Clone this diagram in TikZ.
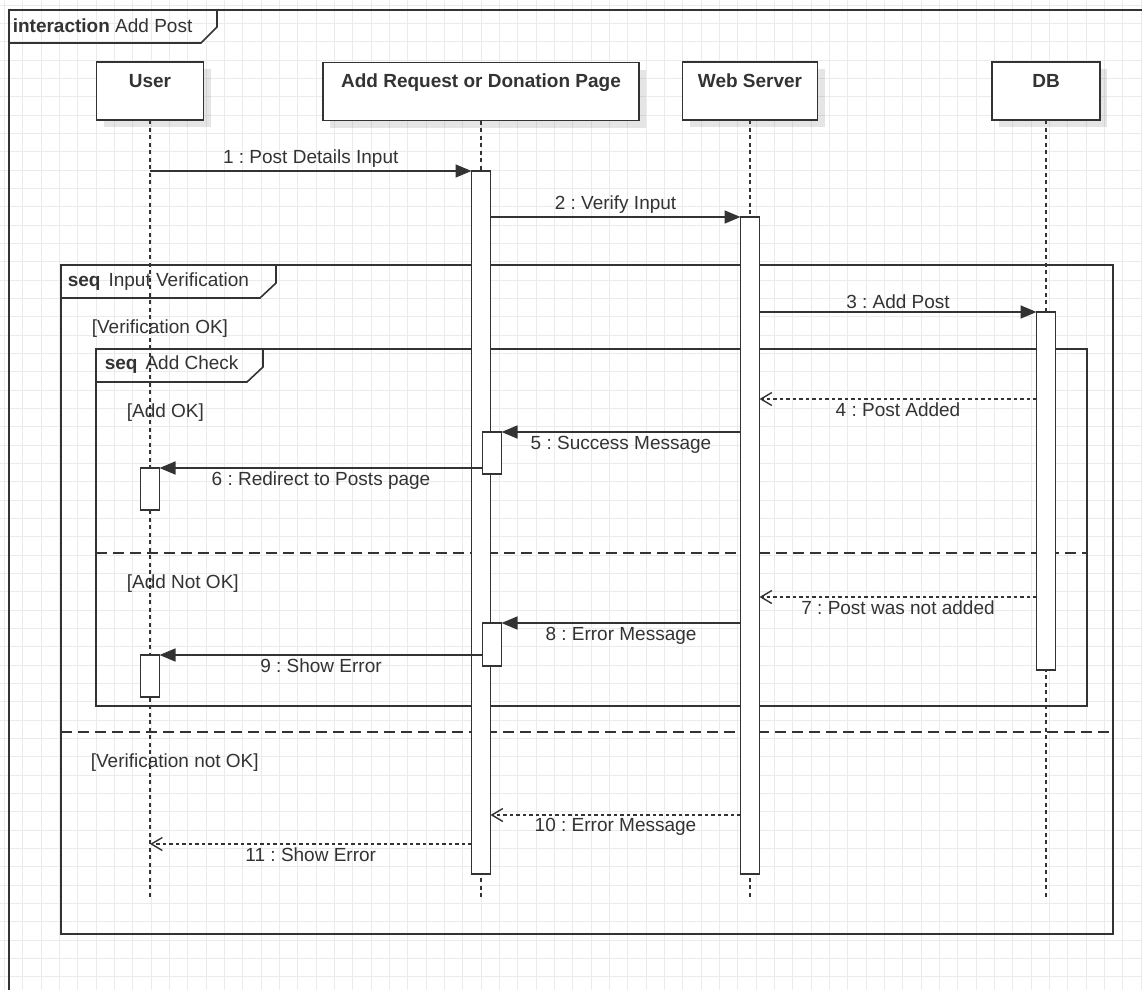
\documentclass[tikz,border=0pt]{standalone}
\usepackage{fontspec}
\setmainfont{Liberation Sans}
\usetikzlibrary{arrows.meta,shadows}
\definecolor{ink}{HTML}{333333}
\definecolor{gridline}{HTML}{EBEBEB}
\frenchspacing

\begin{document}
\begin{tikzpicture}
[x=1pt,y=-1pt,color=ink,line width=1.6pt,
 head/.style={draw,fill=white,minimum width=#1,minimum height=58pt,inner sep=0pt,outer sep=0pt,
   drop shadow={shadow xshift=7pt,shadow yshift=-7pt,fill=black,opacity=0.1}},
 hd/.style={anchor=base,font=\fontsize{19}{22}\selectfont\bfseries,inner sep=0pt},
 bar/.style={draw,fill=white,minimum width=19pt,inner sep=0pt,outer sep=0pt},
 life/.style={line width=1.2pt,dash pattern=on 4pt off 3.5pt},
 call/.style={-{Triangle[length=16pt,width=13pt]}},
 reply/.style={-{Straight Barb[length=11pt,width=13pt,line width=1.4pt]},line width=1.3pt,dash pattern=on 3.5pt off 3pt},
 msg/.style={font=\fontsize{19}{22}\selectfont,inner sep=3pt},
 guard/.style={anchor=west,font=\fontsize{19}{22}\selectfont,inner sep=0pt},
 split/.style={dash pattern=on 11pt off 6pt}]
\useasboundingbox (0,0) rectangle (1142,990);
\fill[white] (0,0) rectangle (1142,990);
\foreach \i in {0,...,62} \draw[gridline,line width=0.8pt] (4.5+18.33*\i,0) -- (4.5+18.33*\i,990);
\foreach \j in {0,...,54} \draw[gridline,line width=0.8pt] (0,5.2+18.33*\j) -- (1142,5.2+18.33*\j);

% interaction frame
\draw (9,990) -- (9,10) -- (1142,10);
\draw (9,43) -- (201,43) -- (217,27) -- (217,10);
\node[guard](title) at (12,26) {\textbf{interaction} Add Post};

% lifelines
\node[head=107pt](user) at (150,91) {};
\node[head=316pt](page) at (481,91.5) {};
\node[head=135pt](server) at (750,91) {};
\node[head=108pt](db) at (1046,91) {};
\node[hd](usert) at (150,87) {User};
\node[hd](paget) at (481,87) {Add Request or Donation Page};
\node[hd](servert) at (750,87) {Web Server};
\node[hd](dbt) at (1046,87) {DB};

\coordinate (end) at (0,897);
\draw[life] (user.south) -- (user.south |- end);
\draw[life] (page.south) -- (page.south |- end);
\draw[life] (server.south) -- (server.south |- end);
\draw[life] (db.south) -- (db.south |- end);

% frames
\draw (61,265) rectangle (1113,934);
\draw (61,298) -- (260,298) -- (276,283) -- (276,265);
\node[guard](ivlbl) at (67,282) {\textbf{seq}\hspace{8pt}Input Verification};
\node[guard](vok) at (91,329) {[Verification OK]};
\draw (96,349) rectangle (1087,706);
\draw (96,382) -- (247,382) -- (263,367) -- (263,349);
\node[guard](aclbl) at (104,365) {\textbf{seq}\hspace{8pt}Add Check};
\node[guard](aok) at (126,413) {[Add OK]};
\draw[split] (96,553) -- (1087,553);
\node[guard](anok) at (126,584) {[Add Not OK]};
\draw[split] (61,732) -- (1113,732);
\node[guard](vnok) at (90,763) {[Verification not OK]};

% activations
\node[bar,minimum height=703pt](pagebar) at (481,522.5) {};
\node[bar,minimum height=657pt](srvbar) at (750,545.5) {};
\node[bar,minimum height=358pt](dbbar) at (1046,491) {};
\node[bar,minimum height=42pt](pageok) at (492,453) {};
\node[bar,minimum height=42pt](userok) at (150,489) {};
\node[bar,minimum height=43pt](pagenok) at (492,644.5) {};
\node[bar,minimum height=42pt](usernok) at (150,676) {};

% messages
\coordinate (r4) at (0,399);
\coordinate (r7) at (0,597);
\coordinate (r10) at (0,815);
\coordinate (r11) at (0,844);
\draw[call] (user.south |- pagebar.north) -- (pagebar.north west) node[msg,midway,above]{1 : Post Details Input};
\draw[call] (pagebar.east |- srvbar.north) -- (srvbar.north west) node[msg,midway,above]{2 : Verify Input};
\draw[call] (srvbar.east |- dbbar.north) -- (dbbar.north west) node[msg,midway,above]{3 : Add Post};
\draw[reply] (dbbar.west |- r4) -- (srvbar.east |- r4) node[msg,midway,below]{4 : Post Added};
\draw[call] (srvbar.west |- pageok.north) -- (pageok.north east) node[msg,midway,below]{5 : Success Message};
\draw[call] (pageok.west |- userok.north) -- (userok.north east) node[msg,midway,below]{6 : Redirect to Posts page};
\draw[reply] (dbbar.west |- r7) -- (srvbar.east |- r7) node[msg,midway,below]{7 : Post was not added};
\draw[call] (srvbar.west |- pagenok.north) -- (pagenok.north east) node[msg,midway,below]{8 : Error Message};
\draw[call] (pagenok.west |- usernok.north) -- (usernok.north east) node[msg,midway,below]{9 : Show Error};
\draw[reply] (srvbar.west |- r10) -- (pagebar.east |- r10) node[msg,midway,below]{10 : Error Message};
\draw[reply] (pagebar.west |- r11) -- (user.south |- r11) node[msg,midway,below]{11 : Show Error};

\end{tikzpicture}
\end{document}
